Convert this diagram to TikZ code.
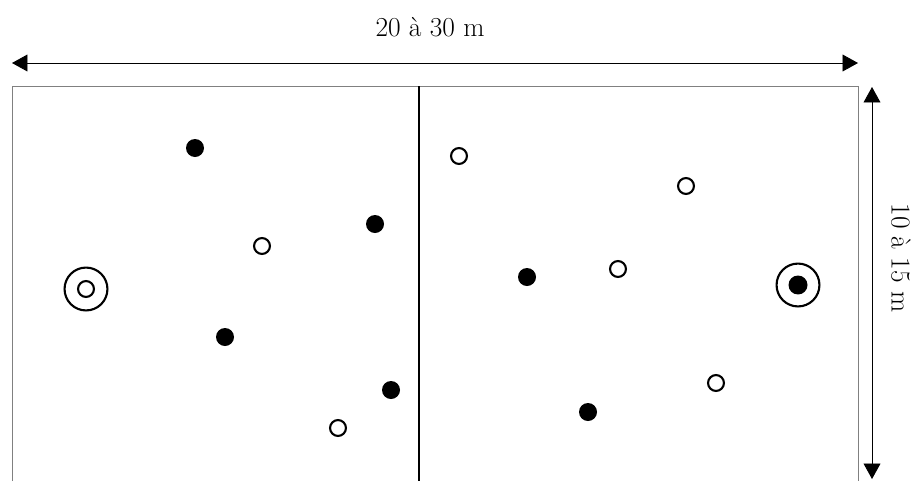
\documentclass[tikz,border=0pt]{standalone}
\usetikzlibrary{arrows.meta}

\tikzset{
  plein/.style={circle,fill=black,inner sep=0pt,minimum size=12.8pt},
  vide/.style={circle,draw=black,line width=1.5pt,inner sep=0pt,minimum size=11.3pt},
  cible/.style={circle,draw=black,line width=1.5pt,inner sep=0pt,minimum size=30.5pt},
  cote/.style={{Triangle[length=11pt,width=12pt]}-{Triangle[length=11pt,width=12pt]},line width=0.6pt},
  texte/.style={font=\fontsize{19.5}{23}\selectfont}
}

\begin{document}
\begin{tikzpicture}[x=0.025cm,y=-0.025cm]

\useasboundingbox (0,0) rectangle (912,481);

% Terrain
\draw[gray,line width=0.6pt]
(12,481)
-- (12,86)
-- (858,86)
-- (858,481);

% Ligne mediane
\draw[line width=1.2pt]
(419,86)
--
(419,481);

% Cotes
\coordinate (g) at (12,63);
\coordinate (d) at (858,63);
\coordinate (h) at (872,87);
\coordinate (b) at (872,479);

\draw[cote] (g) -- (d);
\draw[cote] (h) -- (b);

\node[texte] (largeur) at (430,27) {20 à 30 m};
\node[texte,rotate=-90] (longueur) at (901,258) {10 à 15 m};

% Camp gauche
\node[cible] (cg) at (86,289) {};
\node[vide] (cgi) at (86,289) {};

\node[plein] (g1) at (195,148) {};
\node[plein] (g2) at (375,224) {};
\node[plein] (g3) at (225,337) {};
\node[plein] (g4) at (391,390) {};
\node[vide] (g5) at (262,246) {};
\node[vide] (g6) at (338,428) {};

% Camp droit
\node[cible] (cd) at (798,285) {};
\node[plein,minimum size=13.5pt] (cdi) at (798,285) {};

\node[vide] (d1) at (459,156) {};
\node[vide] (d2) at (686,186) {};
\node[vide] (d3) at (618,269) {};
\node[vide] (d4) at (716,383) {};
\node[plein] (d5) at (527,277) {};
\node[plein] (d6) at (588,412) {};

\end{tikzpicture}
\end{document}
